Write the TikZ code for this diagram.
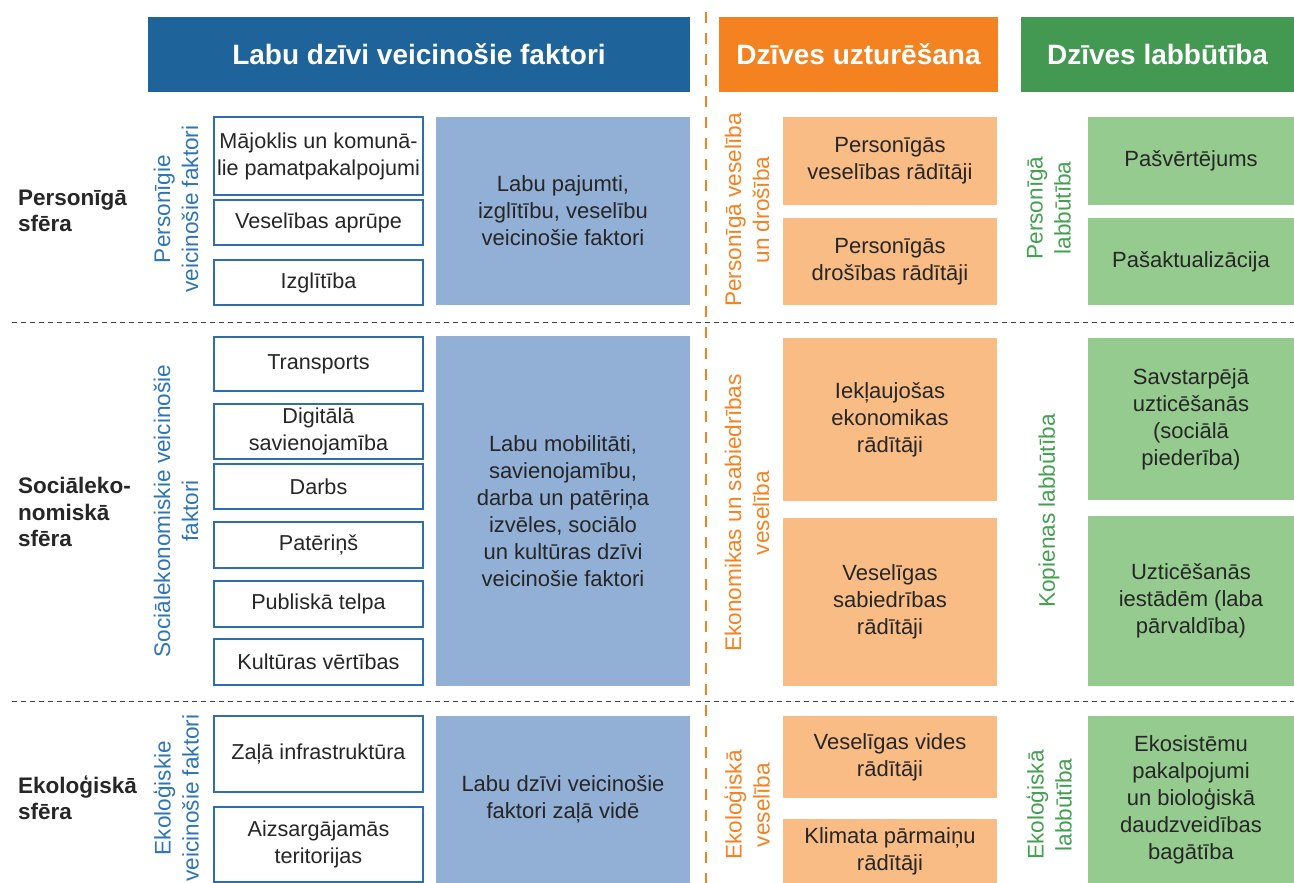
\documentclass[tikz,border=0pt]{standalone}
\usepackage{fontspec}
\setmainfont{Liberation Sans}
\definecolor{headblue}{RGB}{30,99,153}
\definecolor{headorange}{RGB}{245,130,32}
\definecolor{headgreen}{RGB}{67,152,82}
\definecolor{lightblue}{RGB}{146,175,213}
\definecolor{lightorange}{RGB}{249,188,132}
\definecolor{lightgreen}{RGB}{149,203,142}
\definecolor{labelblue}{RGB}{46,117,182}
\definecolor{labelgreen}{RGB}{67,160,80}
\definecolor{framblue}{RGB}{46,110,170}
\definecolor{inktext}{RGB}{38,38,38}

\begin{document}
\begin{tikzpicture}
[x=1pt, y=-1pt,
sz/.style 2 args={minimum width=#1, minimum height=#2},
head/.style={fill=#1, text=white, inner sep=0, font=\fontsize{28}{32}\selectfont\bfseries},
boxtext/.style={inner sep=0, align=center, text=inktext, font=\fontsize{22}{27}\selectfont},
factor/.style={boxtext, draw=framblue, line width=1.5pt, fill=white, font=\fontsize{21.6}{27}\selectfont},
group/.style={boxtext, fill=lightblue},
upkeep/.style={boxtext, fill=lightorange},
wellb/.style={boxtext, fill=lightgreen},
sphere/.style={anchor=west, inner sep=0, align=left, text=inktext, font=\fontsize{22.5}{26.5}\selectfont\bfseries},
side/.style={rotate=90, inner sep=0, align=center, text=#1, font=\fontsize{22.6}{28}\selectfont}]
\useasboundingbox (0,0) rectangle (1294,883);

% headers
\node[head=headblue, sz={542}{75}] (hfactors) at (419,54.5) {Labu dzīvi veicinošie faktori};
\node[head=headorange, sz={279}{75}] (hupkeep) at (858.5,54.5) {Dzīves uzturēšana};
\node[head=headgreen, sz={273}{75}] (hwell) at (1157.5,54.5) {Dzīves labbūtība};

% separators
\draw[black!75, line width=1pt, dash pattern=on 5pt off 4pt] (12,322) -- (1294,322);
\draw[black!75, line width=1pt, dash pattern=on 5pt off 4pt] (12,701) -- (1294,701);
\draw[headorange, line width=2.5pt, dash pattern=on 11pt off 10pt] (706,12) -- (706,883);

% spheres
\node[sphere] (sphpers) at (18,211) {Personīgā\\sfēra};
\node[sphere] (sphsoc) at (18,512) {Sociāleko-\\nomiskā\\sfēra};
\node[sphere] (spheco) at (18,798) {Ekoloģiskā\\sfēra};

% personal sphere
\node[side=labelblue] (lbpers) at (176,209) {Personīgie\\veicinošie faktori};
\node[factor, sz={209}{78}] (home) at (318.5,156) {Mājoklis un komunā-\\lie pamatpakalpojumi};
\node[factor, sz={209}{45}] (care) at (318.5,222.5) {Veselības aprūpe};
\node[factor, sz={209}{45}] (edu) at (318.5,282.5) {Izglītība};
\node[group, sz={254}{188}] (gpers) at (563,211) {Labu pajumti,\\izglītību, veselību\\veicinošie faktori};
\node[side=headorange] (lopers) at (747,210) {Personīgā veselība\\un drošība};
\node[upkeep, sz={214}{88}] (phealth) at (890,161) {Personīgās\\veselības rādītāji};
\node[upkeep, sz={214}{87}] (psafety) at (890,261.5) {Personīgās\\drošības rādītāji};
\node[side=labelgreen] (lgpers) at (1049,208) {Personīgā\\labbūtība};
\node[wellb, sz={206}{88}] (selfrate) at (1191,161) {Pašvērtējums};
\node[wellb, sz={206}{87}] (selfact) at (1191,261.5) {Pašaktualizācija};

% socio-economic sphere
\node[side=labelblue] (lbsoc) at (176,511) {Sociālekonomiskie veicinošie\\faktori};
\node[factor, sz={209}{54}] (transp) at (318.5,364) {Transports};
\node[factor, sz={209}{55}] (digit) at (318.5,431.5) {Digitālā\\savienojamība};
\node[factor, sz={209}{45}] (work) at (318.5,486.5) {Darbs};
\node[factor, sz={209}{46}] (consum) at (318.5,545) {Patēriņš};
\node[factor, sz={209}{46}] (public) at (318.5,604) {Publiskā telpa};
\node[factor, sz={209}{46}] (cult) at (318.5,662) {Kultūras vērtības};
\node[group, sz={254}{350}] (gsoc) at (563,511) {Labu mobilitāti,\\savienojamību,\\darba un patēriņa\\izvēles, sociālo\\un kultūras dzīvi\\veicinošie faktori};
\node[side=headorange] (losoc) at (747,513) {Ekonomikas un sabiedrības\\veselība};
\node[upkeep, sz={214}{163}] (econ) at (890,419.5) {Iekļaujošas\\ekonomikas\\rādītāji};
\node[upkeep, sz={214}{168}] (society) at (890,602) {Veselīgas\\sabiedrības\\rādītāji};
\node[side=labelgreen] (lgsoc) at (1049,511) {Kopienas labbūtība};
\node[wellb, sz={206}{162}] (trust) at (1191,419) {Savstarpējā\\uzticēšanās\\(sociālā\\piederība)};
\node[wellb, sz={206}{170}] (govern) at (1191,601) {Uzticēšanās\\iestādēm (laba\\pārvaldība)};

% ecological sphere
\node[side=labelblue] (lbeco) at (176,798) {Ekoloģiskie\\veicinošie faktori};
\node[factor, sz={209}{76}] (green) at (318.5,754) {Zaļā infrastruktūra};
\node[factor, sz={209}{75}] (protect) at (318.5,844.5) {Aizsargājamās\\teritorijas};
\node[group, sz={254}{167}] (geco) at (563,799.5) {Labu dzīvi veicinošie\\faktori zaļā vidē};
\node[side=headorange] (loeco) at (747,805) {Ekoloģiskā\\veselība};
\node[upkeep, sz={214}{82}] (envir) at (890,757) {Veselīgas vides\\rādītāji};
\node[upkeep, sz={214}{64}] (climate) at (890,851) {Klimata pārmaiņu\\rādītāji};
\node[side=labelgreen] (lgeco) at (1049,805) {Ekoloģiskā\\labbūtība};
\node[wellb, sz={206}{167}] (ecosys) at (1191,799.5) {Ekosistēmu\\pakalpojumi\\un bioloģiskā\\daudzveidības\\bagātība};
\end{tikzpicture}
\end{document}
